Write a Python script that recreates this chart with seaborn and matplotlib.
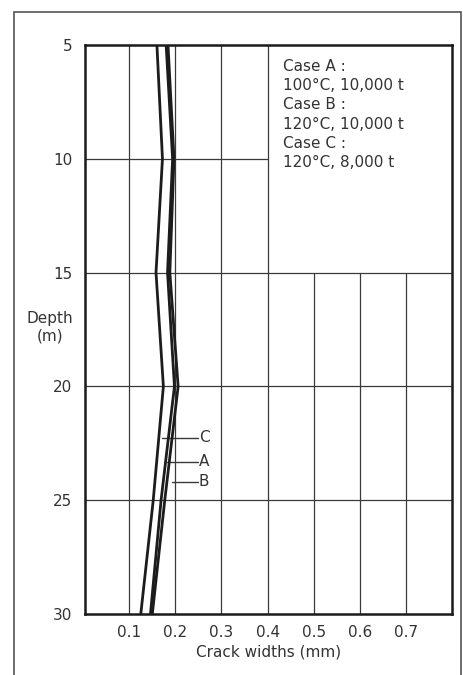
import matplotlib
matplotlib.use("Agg")
import matplotlib.pyplot as plt
from matplotlib.patches import Rectangle
import seaborn as sns
import pandas as pd

# ---- data ----
depths = [5, 10, 15, 20, 25, 30]
case_a = [0.180, 0.194, 0.183, 0.198, 0.169, 0.146]
case_b = [0.184, 0.197, 0.188, 0.206, 0.177, 0.150]
case_c = [0.160, 0.172, 0.158, 0.174, 0.152, 0.125]
case_names = ["A", "B", "C"]
label_depths = {"C": 22.25, "A": 23.3, "B": 24.2}
label_starts = {"C": 0.170, "A": 0.181, "B": 0.192}
x_ticks = [0.1, 0.2, 0.3, 0.4, 0.5, 0.6, 0.7]
x_tick_labels = ["0.1", "0.2", "0.3", "0.4", "0.5", "0.6", "0.7"]
y_ticks = [5, 10, 15, 20, 25, 30]
legend_lines = ["Case A :", "100°C, 10,000 t", "Case B :",
                "120°C, 10,000 t", "Case C :", "120°C, 8,000 t"]

rows = []
for name, vals in zip(case_names, [case_a, case_b, case_c]):
    for d, v in zip(depths, vals):
        rows.append({"case": name, "depth": d, "width": v})
df = pd.DataFrame(rows)

sns.set_theme(style="white")
plt.rcParams["font.family"] = ["DejaVu Sans"]
FS = 11
TXT = "#333333"
LINE = "#1c1c1c"
GRID = "#3a3a3a"

fig = plt.figure(figsize=(4.64, 6.75), dpi=100)
ax = fig.add_axes([85 / 464, 1 - 614 / 675, (452 - 85) / 464, (614 - 45) / 675])

x0, x1 = 0.004, 0.8
ax.set_xlim(x0, x1)
ax.set_ylim(30, 5)

# partial grid
for xv in x_ticks:
    top = 5 if xv <= 0.4 else 15
    ax.vlines(xv, top, 30, color=GRID, lw=0.9, zorder=1)
for yv in y_ticks[1:-1]:
    right = 0.4 if yv == 10 else x1
    ax.hlines(yv, x0, right, color=GRID, lw=0.9, zorder=1)

sns.lineplot(data=df, x="width", y="depth", hue="case",
             palette={n: LINE for n in case_names}, orient="y", sort=False,
             estimator=None, legend=False, lw=2.0, ax=ax, zorder=3)

# case labels
for name in ["C", "A", "B"]:
    d = label_depths[name]
    ax.plot([label_starts[name], 0.249], [d, d], color=GRID, lw=1.0, zorder=2)
    ax.text(0.251, d, name, ha="left", va="center", fontsize=FS, color=TXT)

# legend text block
for i, t in enumerate(legend_lines):
    ax.text(0.5395, 0.962 - i * 0.0337, t, transform=ax.transAxes,
            ha="left", va="center", fontsize=FS, color=TXT)

ax.set_xticks(x_ticks)
ax.set_xticklabels(x_tick_labels)
ax.set_yticks(y_ticks)
ax.tick_params(axis="both", length=0, labelsize=FS, colors=TXT)
ax.tick_params(axis="x", pad=8)
ax.tick_params(axis="y", pad=9)

ax.set_xlabel("Crack widths (mm)", fontsize=FS, color=TXT, labelpad=3)
ax.set_ylabel("Depth\n(m)", fontsize=FS, color=TXT, rotation=0,
              ha="center", va="center")
ax.yaxis.set_label_coords(-0.095, 0.504)

for s in ax.spines.values():
    s.set_visible(True)
    s.set_color("#1a1a1a")
    s.set_linewidth(1.8)

fig.patches.append(Rectangle((14 / 464, -0.05), (461 - 14) / 464, 1.05 - 12 / 675,
                             transform=fig.transFigure, fill=False,
                             edgecolor="#555555", lw=1.2))

fig.savefig("out.png", dpi=100)
